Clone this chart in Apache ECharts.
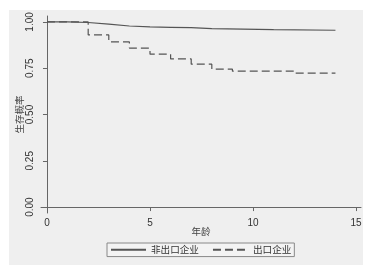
<!DOCTYPE html>
<html><head><meta charset="utf-8">
<script src="https://cdn.jsdelivr.net/npm/echarts@6/dist/echarts.min.js"></script>
<style>html,body{margin:0;padding:0;background:#fff}#c{width:377px;height:275px}</style>
</head><body><div id="c"></div>
<script>
const nonExportName = '非出口企业';
const exportName = '出口企业';
const nonExportTimes = [0, 1, 2, 3, 4, 5, 6, 7, 8, 11, 14];
const nonExportSurv = [1.0, 0.997, 0.988, 0.978, 0.973, 0.971, 0.969, 0.964, 0.958, 0.955, 0.955];
const exportTimes = [0, 2, 3, 4, 5, 6, 7, 8, 9, 12, 14];
const exportSurv = [1.0, 0.93, 0.892, 0.859, 0.826, 0.80, 0.772, 0.745, 0.734, 0.723, 0.723];
const xTicks = [0, 5, 10, 15];
const yTicks = [0, 0.25, 0.5, 0.75, 1.0];
const xTitle = '年龄';
const yTitle = '生存概率';

const chart = echarts.init(document.getElementById('c'), null, {renderer: 'canvas'});
const font = '"Liberation Sans", Arial, "Noto Sans CJK SC", sans-serif';
const cjk = '"Noto Sans CJK SC", sans-serif';
const lineCol = '#555';
chart.setOption({
  animation: false,
  graphic: [{type: 'rect', z: -10, shape: {x: 9, y: 10, width: 354, height: 255}, style: {fill: '#efefef'}}],
  grid: {left: 41, top: 16, right: 16, bottom: 62},
  xAxis: {
    type: 'value', min: -0.29, max: 15.24,
    name: xTitle, nameLocation: 'middle', nameGap: 14, nameMoveOverlap: false,
    nameTextStyle: {fontFamily: cjk, fontSize: 9.5, color: '#444', verticalAlign: 'top'},
    axisLine: {show: true, lineStyle: {color: '#666', width: 1}},
    axisTick: {show: true, inside: false, length: 4, customValues: xTicks, lineStyle: {color: '#666'}},
    axisLabel: {customValues: xTicks, fontFamily: font, fontSize: 10, color: '#333', margin: 5},
    splitLine: {show: false}
  },
  yAxis: {
    type: 'value', min: -0.032, max: 1.032,
    name: yTitle, nameLocation: 'middle', nameGap: 17, nameMoveOverlap: false,
    nameTextStyle: {fontFamily: cjk, fontSize: 9.5, color: '#444'},
    axisLine: {show: true, lineStyle: {color: '#666', width: 1}},
    axisTick: {show: true, length: 4, customValues: yTicks, lineStyle: {color: '#666'}},
    axisLabel: {customValues: yTicks, rotate: 90, fontFamily: font, fontSize: 10, color: '#333', margin: 6,
      formatter: v => v.toFixed(2)},
    splitLine: {show: false}
  },
  legend: {
    left: 107, top: 243, orient: 'horizontal',
    itemWidth: 35, itemHeight: 10, itemGap: 13,
    padding: [2, 3, 2, 3],
    borderColor: '#888', borderWidth: 1, backgroundColor: '#f3f3f3',
    itemStyle: {opacity: 0},
    textStyle: {fontFamily: cjk, fontSize: 9.6, color: '#333'},
    data: [nonExportName, exportName]
  },
  series: [
    {name: nonExportName, type: 'line', step: 'end', symbol: 'none',
     lineStyle: {color: lineCol, width: 1.2, type: 'solid'}, itemStyle: {color: lineCol},
     data: nonExportTimes.map((t, i) => [t, nonExportSurv[i]])},
    {name: exportName, type: 'line', step: 'end', symbol: 'none',
     lineStyle: {color: lineCol, width: 1.2, type: [8, 4]}, itemStyle: {color: lineCol},
     data: exportTimes.map((t, i) => [t, exportSurv[i]])}
  ]
});
</script></body></html>
